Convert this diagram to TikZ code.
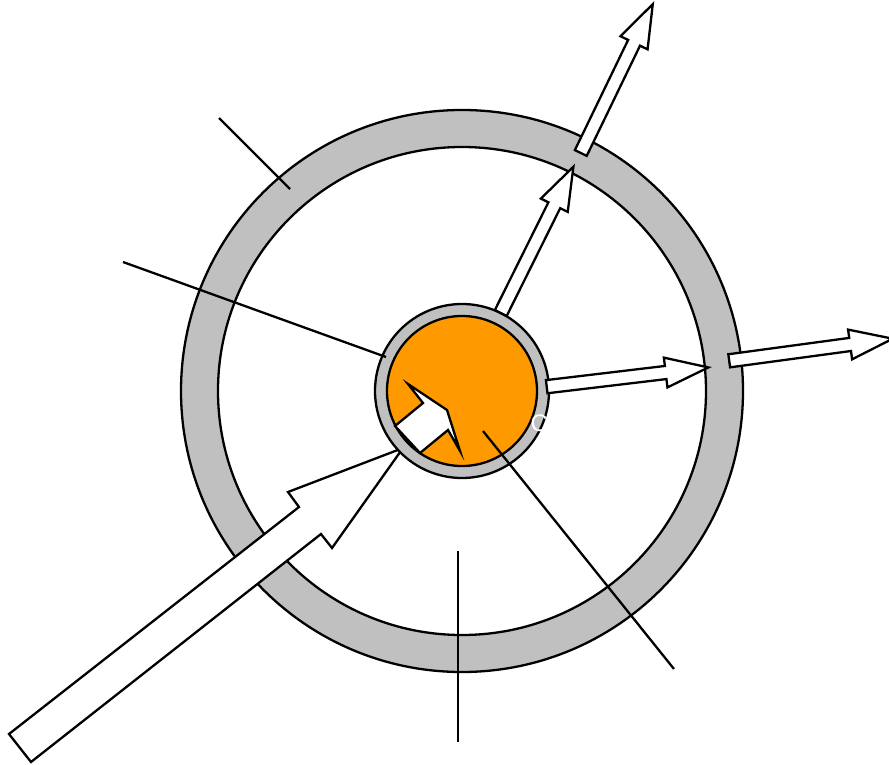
\documentclass[tikz,border=0pt]{standalone}
\usepackage{fontspec}
\setmainfont{Liberation Sans}
\definecolor{shell}{HTML}{C0C0C0}
\definecolor{core}{HTML}{FF9900}

\begin{document}
\begin{tikzpicture}[x=1pt, y=-1pt,
      wire/.style={draw=black, line width=2.3pt},
      blk/.style={wire, fill=white, line join=miter},
      flow/.pic={\path[blk] (0,-6.6) -- ({#1-43},-6.6) -- ({#1-43},-15) -- (#1,0)
                 -- ({#1-43},15) -- ({#1-43},6.6) -- (0,6.6) -- cycle;}]
  \useasboundingbox (0,0) rectangle (889,765);
  \coordinate (c) at (462,391);
  % outer shell
  \path[wire, fill=shell] (c) circle (281);
  \path[wire, fill=white] (c) circle (244);
  % feed arrow
  \path[blk] (9,734) -- (299,507) -- (288,492) -- (403,448) -- (332,548)
             -- (321,534) -- (31,762) -- cycle;
  % core
  \path[wire, fill=shell] (c) circle (87);
  \path[wire, fill=core] (c) circle (75);
  % leaders
  \draw[wire] (219,118) -- (290,189);
  \draw[wire] (123,262) -- (386,357);
  \draw[wire] (458,551) -- (458,742);
  \draw[wire] (483,431) -- (674,669);
  % arrow inside the core
  \path[blk] (395,426) -- (423,403) -- (408,384) -- (447,410) -- (460,451)
             -- (448,430) -- (420,453) -- cycle;
  % outputs
  \pic[rotate=63.6] at (500.8,313) {flow=163.3};
  \pic[rotate=64.2] at (580.8,153) {flow=165.4};
  \pic[rotate=6.8] at (546.7,386.7) {flow=162.8};
  \pic[rotate=7.7] at (729.2,360.8) {flow=165};
  \node[text=white, font=\fontsize{24}{28}\selectfont, anchor=base west,
        inner sep=0pt] (tag) at (530.5,431.7) {C};
\end{tikzpicture}
\end{document}
